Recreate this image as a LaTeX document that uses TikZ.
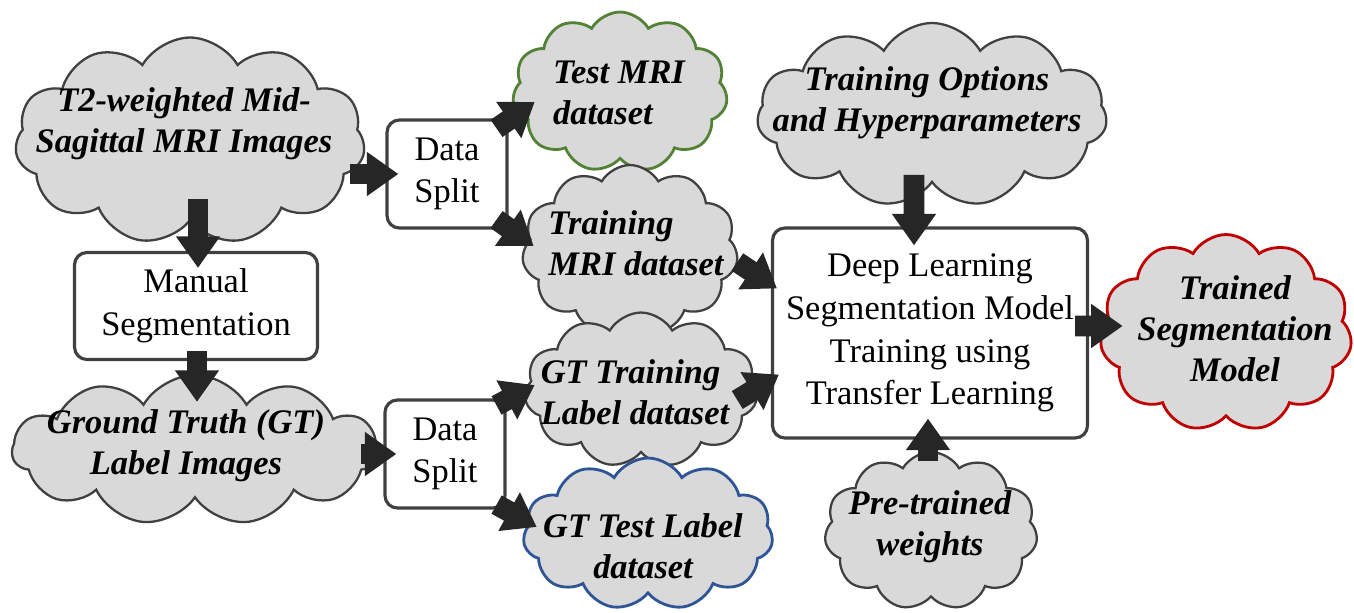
\documentclass[tikz,border=0pt]{standalone}
\usepackage{fontspec}
\setmainfont{Liberation Serif}
\usetikzlibrary{shapes.symbols,arrows.meta,calc}
\definecolor{cfill}{HTML}{D9D9D9}
\definecolor{cline}{HTML}{404040}
\definecolor{cgreen}{HTML}{538135}
\definecolor{cblue}{HTML}{2F5597}
\definecolor{cred}{HTML}{C00000}
\definecolor{arrc}{HTML}{262626}
\begin{document}
\begin{tikzpicture}[x=0.02cm,y=-0.02cm,
  cld/.style={cloud, cloud puffs=11, cloud puff arc=120, cloud ignores aspect, draw=cline, fill=cfill, line width=1.3pt, inner sep=0pt},
  ctxt/.style={font=\fontsize{19.6}{23.3}\selectfont\bfseries\itshape, align=center, inner sep=0pt},
  box/.style={draw=cline, line width=1.8pt, rounded corners=7pt, fill=white, align=center, inner sep=0pt, font=\fontsize{19.6}{24.3}\selectfont},
  blk/.style={draw=arrc, line width=11.9pt, -{Triangle[width=24pt,length=18pt]}}
]
\useasboundingbox (0,0) rectangle (1354,612);
% clouds
\node[cld, minimum width=7cm, minimum height=4.14cm] (t2) at (190,141) {};
\node[cld, draw=cgreen, line width=1.6pt, minimum width=4.3cm, minimum height=3.2cm] (testmri) at (620,92) {};
\node[cld, minimum width=4.32cm, minimum height=3.4cm] (trainmri) at (630,250) {};
\node[cld, minimum width=4.66cm, minimum height=3.1cm] (gttrain) at (641,390) {};
\node[cld, draw=cblue, line width=1.6pt, minimum width=5cm, minimum height=3.04cm] (gttest) at (648,534) {};
\node[cld, minimum width=7.32cm, minimum height=3cm] (gt) at (195,450) {};
\node[cld, minimum width=7cm, minimum height=3.68cm] (opts) at (932,115) {};
\node[cld, draw=cred, line width=1.6pt, minimum width=5.04cm, minimum height=3.94cm] (trained) at (1226,333) {};
\node[cld, minimum width=4.26cm, minimum height=3.16cm] (pre) at (931,531) {};
% cloud texts
\node[ctxt] (t2t) at (184,124) {T2-weighted Mid-\\Sagittal MRI Images};
\node[ctxt, align=left] (testt) at (619,93) {Test MRI\\dataset};
\node[ctxt, align=left] (trainmt) at (636,243) {Training\\MRI dataset};
\node[ctxt, align=left] (gttrt) at (635,392) {GT Training\\Label dataset};
\node[ctxt] (gttet) at (643,546) {GT Test Label\\dataset};
\node[ctxt] (gtt) at (186,446) {Ground Truth (GT)\\Label Images};
\node[ctxt] (optt) at (927,103) {Training Options\\and Hyperparameters};
\node[ctxt] (trt) at (1235,329) {Trained\\Segmentation\\Model};
\node[ctxt] (pret) at (930,527) {Pre-trained\\weights};
% boxes
\node[box, minimum width=2.4cm, minimum height=2.16cm] (split1) at (447,174) {Data\\Split};
\node[box, minimum width=4.86cm, minimum height=2.14cm] (manual) at (196,306) {Manual\\Segmentation};
\node[box, minimum width=2.4cm, minimum height=2.16cm] (split2) at (445,454) {Data\\Split};
\node[box, minimum width=6.3cm, minimum height=4.2cm] (dl) at (930,333) {Deep Learning\\Segmentation Model\\Training using\\Transfer Learning};
% arrows
\draw[blk] ($(t2.east |- split1.west)+(-15,0)$) -- ($(split1.west)+(13,0)$);
\draw[blk] ($(manual.north |- t2.south)+(2,-23)$) -- ($(manual.north)+(2,17)$);
\draw[blk] ($(manual.south)+(1,-10)$) -- ($(manual.south |- gt.north)+(1,28)$);
\draw[blk] ($(gt.east |- split2.west)+(-18,0)$) -- ($(split2.west)+(13,0)$);
\draw[blk] ($(split1.north east)+(-12,10)$) -- ($(testmri.west)+(22,10)$);
\draw[blk] ($(split1.south east)+(-12,-10)$) -- ($(trainmri.west)+(11,-4)$);
\draw[blk] ($(split2.north east)+(-10,7)$) -- ($(gttrain.west)+(10,-5)$);
\draw[blk] ($(split2.south east)+(-10,-5)$) -- ($(gttest.west)+(14,-7)$);
\draw[blk] ($(trainmri.east)+(0,12)$) -- ($(dl.north west)+(6,62)$);
\draw[blk] ($(gttrain.east)+(-20,10)$) -- ($(dl.south west)+(8,-65)$);
\draw[blk] ($(opts.south)+(-18,-9)$) -- ($(dl.north)+(-16,19)$);
\draw[blk] ($(pre.north)+(-3,10)$) -- ($(dl.south)+(-2,-21)$);
\draw[blk] ($(dl.east)+(-14,-7)$) -- ($(trained.west)+(22,-7)$);
\end{tikzpicture}
\end{document}
